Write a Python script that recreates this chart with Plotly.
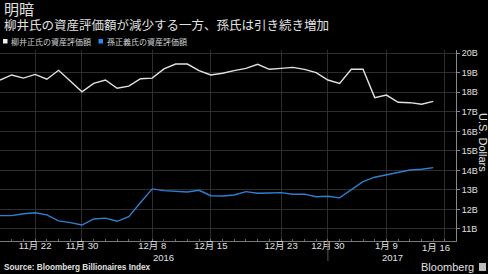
import plotly.graph_objects as go

# ---- data ----
dates = ["11/17", "11/18", "11/21", "11/22", "11/23", "11/25", "11/28", "11/30",
         "12/1", "12/2", "12/5", "12/6", "12/7", "12/8", "12/9", "12/12", "12/13",
         "12/14", "12/15", "12/16", "12/19", "12/20", "12/21", "12/22", "12/23",
         "12/27", "12/28", "12/29", "12/30", "1/3", "1/4", "1/5", "1/6", "1/9",
         "1/10", "1/11", "1/12", "1/13"]
yanai = [18.63, 18.89, 18.73, 18.92, 18.67, 19.13, 18.58, 18.03, 18.46, 18.63,
         18.21, 18.32, 18.70, 18.73, 19.20, 19.45, 19.45, 19.11, 18.89, 18.98,
         19.11, 19.23, 19.44, 19.18, 19.23, 19.28, 19.18, 19.01, 18.63, 18.46,
         19.18, 19.18, 17.73, 17.86, 17.49, 17.47, 17.39, 17.54]
son = [11.68, 11.68, 11.78, 11.83, 11.72, 11.41, 11.32, 11.20, 11.51, 11.55,
       11.39, 11.63, 12.35, 13.05, 12.96, 12.93, 12.89, 12.98, 12.70, 12.69,
       12.74, 12.91, 12.83, 12.84, 12.86, 12.78, 12.78, 12.65, 12.67, 12.59,
       13.00, 13.42, 13.65, 13.77, 13.88, 14.02, 14.06, 14.14]
tick_dates = ["11/22", "11/30", "12/8", "12/15", "12/23", "12/30", "1/9", "1/16"]
tick_text = ["11月 22", "11月 30", "12月 8", "12月 15", "12月 23", "12月 30", "1月 9", "1月 16"]
y_ticks = [11, 12, 13, 14, 15, 16, 17, 18, 19, 20]
series_names = ["柳井正氏の資産評価額", "孫正義氏の資産評価額"]
title = "明暗"
subtitle = "柳井氏の資産評価額が減少する一方、孫氏は引き続き増加"

# ---- layout geometry ----
W, H = 488, 274
L, R, T, B = 0, 456, 50, 241


def px_x(px):
    return (px - L) / (R - L)


def px_y(py):
    return (B - py) / (B - T)


idx = list(range(len(dates)))
tick_pos = [dates.index(d) if d in dates else len(dates) for d in tick_dates]

WHITE = "#e2e2e2"
BLUE = "#2f7fd0"
GRID = "#2e2e2e"
TXT = "#e0e0e0"
FONT = "Liberation Sans, Arial, Noto Sans CJK JP"
CJK = "Noto Sans CJK JP"

fig = go.Figure()
fig.add_trace(go.Scatter(x=idx, y=yanai, mode="lines", name=series_names[0],
                         line=dict(color=WHITE, width=1.4)))
fig.add_trace(go.Scatter(x=idx, y=son, mode="lines", name=series_names[1],
                         line=dict(color=BLUE, width=1.4)))

# last tick label sits a little left of its gridline (kept inside the plot edge)
shown_ticktext = tick_text[:-1] + [""]

annotations = [
    dict(text=f"<span style='font-size:15px'>{title}</span><br>"
              f"<span style='font-size:12.5px'>{subtitle}</span>",
         x=px_x(2), y=px_y(-3.5), yanchor="top", align="left",
         font=dict(size=11.2, color=TXT, family=CJK)),
    dict(text=series_names[0], x=px_x(9), y=px_y(41.5), font=dict(size=8, color="#cfcfcf", family=CJK)),
    dict(text=series_names[1], x=px_x(105), y=px_y(41.5), font=dict(size=8, color="#cfcfcf", family=CJK)),
    dict(text=tick_text[-1], x=px_x(436), y=px_y(247.5), xanchor="center",
         font=dict(size=9.5, color=TXT, family=FONT)),
    dict(text="2016", x=px_x(163), y=px_y(257.5), xanchor="center", font=dict(size=9.5, color=TXT, family=FONT)),
    dict(text="2017", x=px_x(392), y=px_y(257.5), xanchor="center", font=dict(size=9.5, color=TXT, family=FONT)),
    dict(text="<b>Source: Bloomberg Billionaires Index</b>", x=px_x(2), y=px_y(267.5),
         font=dict(size=8.2, color=TXT, family=FONT)),
    dict(text="Bloomberg", x=px_x(476), y=px_y(267), xanchor="right",
         font=dict(size=11, color=TXT, family=FONT)),
    dict(text="U.S. Dollars", x=px_x(483), y=px_y(143), xanchor="center", textangle=90,
         font=dict(size=11, color=TXT, family=FONT)),
]
for a in annotations:
    a.setdefault("xanchor", "left")
    a.setdefault("yanchor", "middle")
    a.update(xref="paper", yref="paper", showarrow=False)

shapes = [
    # legend swatches
    dict(type="rect", xref="paper", yref="paper", x0=px_x(3), x1=px_x(7.5),
         y0=px_y(43.5), y1=px_y(39), fillcolor="#f0f0f0", line=dict(width=0)),
    dict(type="rect", xref="paper", yref="paper", x0=px_x(98.5), x1=px_x(103),
         y0=px_y(43.5), y1=px_y(39), fillcolor="#2a8af0", line=dict(width=0)),
    # year separator
    dict(type="line", xref="x", yref="paper", x0=tick_pos[5], x1=tick_pos[5],
         y0=0, y1=px_y(261), line=dict(color="#555", width=1)),
    # bloomberg icon
    dict(type="rect", xref="paper", yref="paper", x0=px_x(479), x1=px_x(486),
         y0=px_y(271), y1=px_y(263), fillcolor="#bdbdbd", line=dict(width=0)),
]

fig.update_layout(
    width=W, height=H,
    margin=dict(l=L, r=W - R, t=T, b=H - B, pad=0),
    paper_bgcolor="#000000", plot_bgcolor="#000000",
    showlegend=False,
    annotations=annotations, shapes=shapes,
    font=dict(family=FONT, color=TXT),
)
fig.update_xaxes(
    range=[0, 38.94], tickmode="array", tickvals=tick_pos, ticktext=shown_ticktext,
    showgrid=True, gridcolor=GRID, gridwidth=1, zeroline=False,
    showline=True, linecolor="#777", linewidth=1,
    ticks="inside", ticklen=2, tickcolor="#777", ticklabelstandoff=-4,
    tickfont=dict(size=9.5, color=TXT, family=FONT),
    minor=dict(tickmode="linear", tick0=0, dtick=1, ticks="inside", ticklen=2,
               tickcolor="#666", showgrid=False),
)
fig.update_yaxes(
    side="right", range=[10.38, 20.17], tickmode="array", tickvals=y_ticks,
    ticktext=[f"{v}B" for v in y_ticks],
    showgrid=True, gridcolor=GRID, gridwidth=1, zeroline=False,
    showline=True, linecolor="#888", linewidth=1,
    ticks="outside", ticklen=3, tickcolor="#888",
    tickfont=dict(size=9, color=TXT, family=FONT),
)

fig.write_html("out.html")
